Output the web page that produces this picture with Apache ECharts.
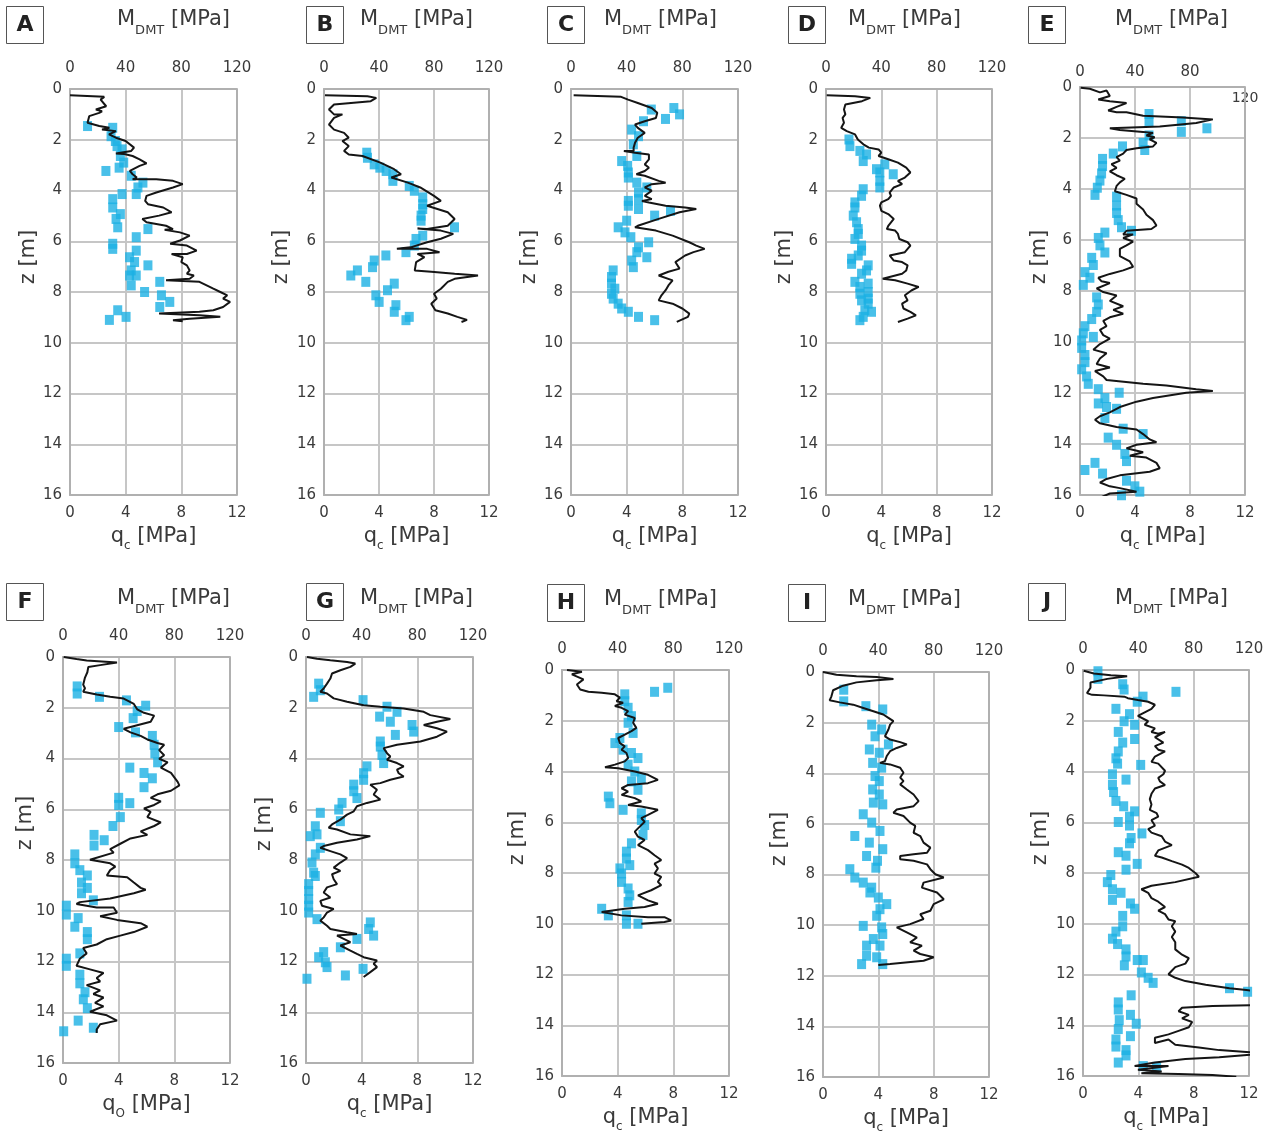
<!DOCTYPE html>
<html><head><meta charset="utf-8">
<script src="https://cdn.jsdelivr.net/npm/echarts@6/dist/echarts.min.js"></script>
<style>html,body{margin:0;padding:0;background:#fff}#c{width:1270px;height:1135px}</style>
</head><body><div id="c"></div><script>
// ---- DATA: qc profiles [qc MPa, z m] and M_DMT points [M MPa, z m] ----
const qcA=[[0,0.25],[2.46,0.31],[2.2,0.42],[2.6,0.68],[1.86,0.81],[2.3,0.88],[2.1,0.94],[1.38,1.07],[1.26,1.33],[2.1,1.46],[2.83,1.53],[2.3,1.6],[3.3,1.66],[2.8,1.79],[3.3,1.92],[4.0,2.05],[4.6,2.31],[4.4,2.44],[3.3,2.54],[3.9,2.56],[4.5,2.64],[5.0,2.77],[5.5,2.93],[5.0,3.03],[4.3,3.23],[4.5,3.36],[4.8,3.49],[4.5,3.56],[6.2,3.56],[7.4,3.62],[8.1,3.75],[7.4,3.88],[6.2,4.08],[5.5,4.21],[5.4,4.41],[5.6,4.54],[6.7,4.67],[7.3,4.86],[6.4,4.99],[5.2,5.12],[5.5,5.25],[6.9,5.39],[7.4,5.52],[6.8,5.55],[7.9,5.65],[8.6,5.78],[7.9,5.97],[7.2,6.1],[8.4,6.17],[9.1,6.37],[8.4,6.5],[7.3,6.5],[8.1,6.63],[8.0,6.82],[8.4,6.95],[8.6,7.15],[8.4,7.28],[8.9,7.35],[8.6,7.48],[6.9,7.54],[9.3,7.6],[10.3,7.87],[10.8,8.0],[11.3,8.13],[11.0,8.26],[11.5,8.39],[11.0,8.59],[10.3,8.72],[9.3,8.78],[6.4,8.85],[9.3,8.92],[10.8,8.98],[8.6,9.05],[7.4,9.11],[8.1,9.15]];
const mA=[[12.6,1.46],[30.7,1.53],[29.5,1.86],[32.6,2.05],[33.8,2.25],[37.4,2.38],[36.2,2.64],[38.6,2.9],[35.3,3.1],[25.8,3.23],[44,3.42],[52.4,3.69],[48.8,3.88],[47.6,4.14],[37.4,4.14],[30.7,4.34],[30.7,4.67],[36.2,4.93],[33.1,5.12],[34.3,5.45],[56,5.52],[47.6,5.84],[30.7,6.1],[30.7,6.3],[47.6,6.37],[42.8,6.63],[46.4,6.82],[56,6.95],[44,7.15],[42.8,7.35],[47.6,7.35],[44,7.74],[64.5,7.6],[53.6,8.0],[65.7,8.13],[71.7,8.39],[64.5,8.59],[34.3,8.72],[28.3,9.1],[40.3,8.98]];
const qcB=[[0.07,0.25],[3.16,0.29],[3.8,0.35],[3.4,0.48],[0.73,0.61],[0.36,0.81],[0.73,1.0],[1.34,1.0],[0.73,1.14],[0.36,1.4],[0.73,1.6],[1.46,1.73],[1.8,1.92],[1.34,2.05],[1.8,2.25],[1.46,2.44],[1.8,2.58],[2.8,2.64],[4.1,2.9],[5.1,3.16],[5.6,3.36],[4.9,3.49],[6.1,3.69],[7.0,3.88],[8.0,4.21],[8.5,4.41],[7.5,4.6],[9.0,4.86],[9.5,5.12],[9.0,5.39],[7.5,5.52],[6.8,5.5],[8.5,5.58],[9.4,5.71],[8.5,5.9],[7.5,6.04],[6.3,6.24],[5.3,6.3],[7.5,6.3],[8.4,6.43],[6.8,6.5],[7.3,6.63],[6.7,6.82],[6.6,7.15],[7.8,7.2],[9.5,7.28],[11.2,7.35],[9.5,7.48],[9.0,7.6],[8.5,7.87],[8.0,8.07],[8.2,8.26],[7.8,8.46],[8.1,8.72],[9.0,8.85],[9.7,8.98],[10.4,9.1],[10.0,9.18]];
const mB=[[31.1,2.51],[31.6,2.71],[36.5,2.97],[40.6,3.1],[45.2,3.23],[50.1,3.36],[50.1,3.62],[62,3.82],[65.7,4.01],[71.8,4.27],[71.8,4.54],[71.8,4.73],[70.6,4.99],[70.6,5.19],[94.9,5.45],[71.8,5.78],[66.9,5.91],[65.7,6.17],[59.6,6.43],[45,6.56],[36.5,6.76],[35.3,7.02],[24.3,7.15],[19.5,7.35],[30.4,7.6],[51.1,7.67],[46.2,7.93],[37.7,8.13],[40.1,8.39],[52.3,8.52],[51.1,8.78],[62,8.98],[59.6,9.11]];
const qcC=[[0.19,0.25],[3.6,0.31],[4.1,0.42],[4.8,0.55],[5.8,0.75],[6.2,0.94],[6.1,1.14],[5.3,1.27],[4.6,1.4],[4.8,1.53],[5.3,1.73],[4.8,1.92],[4.6,2.12],[4.5,2.31],[4.5,2.44],[3.8,2.44],[4.6,2.51],[5.6,2.58],[5.6,2.77],[5.3,2.97],[5.6,3.1],[5.3,3.23],[4.7,3.36],[5.3,3.42],[6.3,3.62],[6.8,3.69],[5.8,3.75],[5.3,3.88],[5.8,4.01],[5.3,4.21],[5.8,4.34],[5.1,4.41],[5.6,4.47],[6.8,4.6],[8.2,4.67],[9.0,4.73],[7.8,4.86],[6.3,5.12],[4.8,5.39],[4.6,5.45],[6.1,5.58],[7.3,5.78],[8.5,6.04],[9.0,6.17],[9.6,6.3],[8.8,6.43],[8.2,6.56],[7.5,6.82],[7.8,7.08],[7.0,7.2],[6.3,7.35],[7.3,7.54],[7.0,7.74],[6.8,7.93],[6.5,8.13],[6.3,8.33],[7.3,8.46],[8.0,8.65],[8.5,8.85],[8.4,8.98],[7.6,9.18]];
const mC=[[57.7,0.81],[73.9,0.75],[78,1.0],[67.9,1.18],[52.1,1.27],[43.6,1.6],[48.5,1.86],[44.8,2.18],[47.3,2.64],[36.4,2.84],[40.7,3.03],[41.2,3.29],[41.2,3.49],[47.3,3.69],[54.5,3.88],[48.5,4.08],[48.5,4.34],[41.2,4.41],[41.2,4.6],[48.5,4.73],[71.5,4.8],[60.1,4.99],[40,5.19],[33.9,5.45],[38.8,5.65],[43,5.84],[55.8,6.04],[48.5,6.24],[47.3,6.43],[54.5,6.63],[43.6,6.76],[44.8,7.02],[30.3,7.15],[29.1,7.41],[29.1,7.67],[31.5,7.87],[29.1,8.07],[30.3,8.26],[33.9,8.46],[36.4,8.65],[41.2,8.78],[48.5,8.98],[60.1,9.11]];
const qcD=[[0.05,0.25],[2.1,0.29],[3.2,0.35],[2.6,0.48],[1.4,0.61],[1.3,0.81],[1.4,1.0],[1.2,1.14],[1.3,1.33],[1.1,1.53],[1.5,1.66],[2.1,1.79],[2.3,1.99],[2.7,2.18],[3.1,2.31],[3.8,2.38],[4.0,2.51],[3.8,2.64],[4.5,2.77],[5.2,2.9],[5.8,3.1],[6.1,3.29],[5.7,3.49],[5.2,3.62],[5.5,3.75],[4.9,3.88],[4.6,4.08],[4.7,4.21],[4.5,4.34],[4.0,4.47],[3.9,4.6],[4.0,4.8],[4.5,4.93],[4.9,5.12],[4.5,5.39],[4.4,5.52],[5.0,5.58],[5.2,5.71],[5.3,5.91],[5.9,6.04],[6.1,6.17],[5.7,6.43],[4.6,6.56],[4.9,6.76],[5.5,6.82],[5.9,6.95],[5.8,7.15],[5.5,7.28],[4.1,7.48],[5.0,7.54],[5.9,7.67],[6.7,7.8],[6.2,7.93],[5.7,8.13],[5.9,8.33],[5.5,8.46],[5.6,8.65],[6.1,8.78],[6.5,8.92],[5.9,9.05],[5.2,9.18]];
const mD=[[16.6,1.99],[17.3,2.25],[24.5,2.44],[29.3,2.58],[26.9,2.84],[42.5,2.97],[36.5,3.16],[38.9,3.29],[48.6,3.36],[38.9,3.62],[38.9,3.88],[26.9,3.95],[25.7,4.21],[20.9,4.47],[20.9,4.67],[19.7,4.99],[22.1,5.25],[23.3,5.52],[23.3,5.71],[20.9,5.91],[25.7,6.17],[25.7,6.37],[23.3,6.56],[18.5,6.69],[18.5,6.89],[30.5,6.95],[29.3,7.15],[25.7,7.28],[20.9,7.6],[30.5,7.67],[24.5,7.8],[30.5,8.0],[24.5,8.07],[30.5,8.26],[25.7,8.33],[30.5,8.46],[28.1,8.72],[32.9,8.78],[26.9,8.98],[24.5,9.11]];
const qcE=[[0.05,0.03],[0.72,0.07],[1.45,0.21],[1.93,0.14],[2.17,0.35],[1.33,0.49],[2.17,0.56],[3.38,0.63],[2.66,0.78],[2.05,0.92],[2.66,0.99],[3.38,0.99],[4.59,1.13],[7.49,1.2],[9.66,1.27],[8.45,1.41],[5.8,1.55],[2.17,1.62],[2.9,1.69],[4.59,1.76],[5.31,1.8],[4.83,1.9],[5.43,1.97],[5.07,2.05],[5.56,2.19],[5.31,2.33],[4.11,2.4],[3.38,2.47],[3.14,2.61],[2.66,2.75],[2.9,2.89],[2.29,3.03],[2.66,3.17],[2.17,3.31],[2.66,3.46],[3.26,3.6],[2.9,3.74],[2.66,3.88],[2.54,4.09],[3.38,4.23],[4.11,4.37],[4.11,4.58],[4.59,4.8],[4.83,5.01],[5.31,5.22],[5.56,5.43],[5.19,5.57],[3.38,5.64],[3.14,5.78],[3.86,5.78],[3.14,5.92],[3.86,6.06],[3.38,6.21],[2.9,6.35],[2.9,6.63],[3.62,6.84],[3.86,7.05],[3.14,7.19],[2.17,7.33],[1.33,7.48],[1.57,7.62],[2.17,7.69],[1.21,7.9],[1.69,8.04],[2.66,8.18],[2.17,8.39],[3.14,8.6],[2.42,8.74],[3.14,8.89],[2.17,9.03],[1.69,9.17],[1.93,9.38],[1.45,9.52],[1.69,9.73],[2.17,9.87],[1.45,10.08],[0.97,10.3],[1.93,10.44],[1.45,10.65],[1.21,10.86],[2.17,11.0],[1.09,11.14],[1.69,11.35],[1.93,11.49],[4.59,11.64],[6.28,11.71],[8.45,11.85],[9.66,11.92],[7.73,11.99],[5.31,12.2],[4.11,12.34],[2.9,12.55],[2.17,12.76],[1.45,12.91],[1.09,13.05],[1.45,13.19],[2.66,13.33],[4.11,13.43],[4.59,13.61],[5.07,13.82],[5.56,13.93],[4.11,14.03],[3.38,14.17],[4.59,14.32],[3.62,14.46],[4.83,14.53],[5.56,14.74],[5.8,14.95],[5.07,15.09],[2.9,15.23],[1.93,15.37],[1.45,15.51],[2.17,15.66],[2.9,15.73],[4.11,15.87],[2.17,15.94],[1.57,16.08]];
const mE=[[50.2,1.06],[50.2,1.34],[73.7,1.34],[73.7,1.76],[92.3,1.62],[50.2,1.9],[45.9,2.19],[47.1,2.47],[30.9,2.33],[24.2,2.61],[16.4,2.82],[16.4,3.1],[15.7,3.39],[14.5,3.67],[12.6,3.95],[10.9,4.23],[26.6,4.3],[26.6,4.65],[26.6,4.94],[27.8,5.22],[37.4,5.64],[30.2,5.5],[18.1,5.71],[13.3,5.92],[14.5,6.21],[18.1,6.49],[8.5,6.7],[9.7,6.98],[3.6,7.26],[7.2,7.48],[2.4,7.76],[12.1,8.25],[13.3,8.53],[12.1,8.82],[8.5,9.1],[3.6,9.38],[2.4,9.66],[9.7,9.8],[1.2,9.94],[1.2,10.23],[3.6,10.51],[3.6,10.79],[1.2,11.07],[4.8,11.35],[6.0,11.64],[13.3,11.85],[28.5,11.99],[18.1,12.2],[13.3,12.41],[19.3,12.55],[26.6,12.62],[18.1,12.98],[31.4,13.4],[45.9,13.61],[20.5,13.75],[26.6,14.03],[32.6,14.39],[33.8,14.67],[10.9,14.74],[3.6,15.02],[16.4,15.16],[33.8,15.44],[39.9,15.66],[43.5,15.87],[30.2,16.01]];
const qcF=[[0.05,0],[0.97,0.08],[1.7,0.14],[3.88,0.22],[2.67,0.32],[1.82,0.39],[1.75,0.6],[1.58,0.81],[1.45,1.09],[1.58,1.23],[1.45,1.37],[2.42,1.48],[3.39,1.57],[4.36,1.64],[5.09,1.85],[5.33,2.06],[5.82,2.2],[6.55,2.31],[6.3,2.55],[5.33,2.69],[4.36,2.83],[4.85,2.97],[5.58,3.11],[6.06,3.25],[6.79,3.39],[7.27,3.46],[6.91,3.67],[7.27,3.87],[6.91,4.01],[7.52,4.15],[7.03,4.36],[7.76,4.57],[8.24,4.92],[8.36,5.06],[7.76,5.27],[6.79,5.41],[6.3,5.55],[7.03,5.69],[6.55,5.83],[5.82,5.97],[6.3,6.1],[6.06,6.31],[7.03,6.52],[6.55,6.66],[5.58,6.87],[6.06,7.01],[4.85,7.15],[4.12,7.36],[3.39,7.57],[3.64,7.71],[1.94,7.99],[3.39,8.13],[3.76,8.26],[3.39,8.4],[3.15,8.61],[4.61,8.68],[5.09,8.89],[5.58,9.1],[5.94,9.17],[5.09,9.31],[3.39,9.52],[1.21,9.66],[0.97,9.73],[2.42,9.87],[3.64,9.87],[3.88,10.08],[2.67,10.22],[3.88,10.36],[5.58,10.49],[6.06,10.63],[5.09,10.84],[4.12,10.98],[3.15,11.12],[2.42,11.33],[1.45,11.47],[1.7,11.68],[1.21,11.89],[0.97,12.17],[1.94,12.31],[2.91,12.45],[2.42,12.65],[2.67,12.79],[1.7,12.93],[2.67,13.14],[2.18,13.28],[2.91,13.42],[2.3,13.63],[2.91,13.77],[1.94,13.98],[3.15,14.12],[3.88,14.33],[2.67,14.47],[2.42,14.68],[2.42,14.82]];
const mF=[[10.2,1.16],[10.2,1.44],[26.2,1.57],[45.6,1.71],[59.4,1.92],[53.3,2.13],[50.4,2.41],[40,2.76],[52.1,2.97],[64.2,3.11],[65.5,3.46],[66,3.8],[68,4.15],[48,4.36],[58.2,4.57],[64.2,4.78],[58.2,5.13],[40,5.55],[40,5.83],[48,5.76],[41.2,6.31],[35.9,6.66],[22.3,7.01],[22.3,7.43],[29.6,7.22],[8.5,7.78],[8.5,8.13],[12.1,8.4],[17.5,8.61],[13.3,8.89],[17.5,9.1],[13.3,9.31],[21.8,9.59],[2.4,9.8],[2.4,10.15],[10.9,10.29],[8.5,10.63],[17.5,10.84],[17.5,11.12],[12.1,11.68],[2.4,11.89],[2.4,12.17],[12.1,12.52],[12.1,12.86],[15.8,13.21],[14.6,13.49],[17.5,13.84],[10.9,14.33],[21.8,14.61],[0.5,14.75]];
const qcG=[[0.07,0],[0.79,0.07],[1.75,0.13],[2.95,0.2],[3.54,0.26],[3.19,0.39],[2.47,0.52],[1.87,0.65],[1.75,0.85],[1.51,1.05],[1.27,1.24],[1.03,1.37],[1.51,1.44],[1.99,1.63],[2.95,1.76],[4.14,1.9],[5.34,1.96],[7.02,2.03],[8.46,2.16],[8.93,2.29],[10.37,2.44],[9.41,2.55],[8.46,2.68],[9.41,2.81],[10.13,2.94],[9.41,3.14],[8.22,3.33],[6.54,3.46],[5.58,3.59],[5.82,3.79],[6.06,3.92],[5.82,4.05],[6.54,4.18],[7.02,4.31],[6.54,4.44],[6.66,4.58],[7.02,4.71],[6.06,4.84],[5.34,4.97],[4.62,5.03],[5.1,5.23],[4.86,5.42],[5.34,5.62],[4.38,5.75],[3.66,5.88],[3.43,6.08],[2.95,6.21],[2.47,6.41],[1.87,6.6],[1.63,6.73],[2.23,6.8],[3.19,6.99],[4.62,7.06],[4.74,7.12],[3.66,7.19],[2.23,7.32],[1.27,7.45],[1.03,7.52],[1.75,7.65],[2.47,7.78],[2.95,7.93],[2.47,8.1],[1.99,8.3],[2.47,8.43],[1.87,8.56],[1.99,8.76],[2.23,8.95],[1.51,9.08],[1.27,9.28],[1.75,9.48],[1.03,9.61],[1.15,9.8],[1.99,9.93],[1.51,10.07],[1.27,10.26],[1.03,10.39],[1.51,10.59],[1.75,10.72],[2.95,10.85],[3.66,10.92],[2.23,10.98],[2.71,11.11],[3.19,11.24],[2.47,11.37],[3.19,11.57],[3.66,11.7],[4.14,11.83],[5.1,11.96],[4.86,12.09],[5.1,12.22],[4.62,12.42],[4.14,12.61]];
const mG=[[9.1,1.05],[10.3,1.31],[5.5,1.57],[41,1.7],[58.2,1.96],[65.4,2.16],[52.9,2.35],[60.6,2.55],[76.2,2.68],[77.4,2.94],[64.2,3.07],[53.4,3.33],[53.4,3.53],[54.6,3.86],[55.8,4.18],[43.8,4.31],[41.4,4.58],[41.4,4.84],[34.3,5.03],[34.3,5.29],[36.6,5.56],[25.9,5.75],[23.5,6.01],[10.3,6.14],[24.7,6.47],[6.7,6.67],[3.1,7.06],[7.9,6.99],[10.3,7.52],[6.7,7.78],[4.3,8.1],[5.5,8.5],[6.7,8.63],[1.9,8.95],[1.9,9.22],[1.9,9.54],[1.9,9.8],[1.9,10.07],[7.9,10.33],[46.2,10.46],[45,10.72],[48.6,10.98],[36.6,11.11],[24.7,11.44],[12.7,11.63],[9.1,11.83],[13.9,12.03],[15.1,12.22],[41,12.29],[28.3,12.55],[0.7,12.68]];
const qcH=[[0.36,0],[1.43,0.07],[0.71,0.17],[1.54,0.37],[1.07,0.57],[1.31,0.77],[1.9,0.86],[2.85,0.9],[3.8,0.96],[4.16,1.09],[3.92,1.23],[4.39,1.29],[3.8,1.42],[4.28,1.49],[4.75,1.62],[4.51,1.76],[5.23,1.89],[5.11,2.08],[5.34,2.28],[4.99,2.41],[4.51,2.55],[4.04,2.68],[4.16,2.88],[4.51,3.01],[4.28,3.14],[4.63,3.27],[4.75,3.47],[4.51,3.6],[3.8,3.73],[3.09,3.83],[4.04,3.87],[5.23,4.0],[6.18,4.13],[6.89,4.33],[6.18,4.46],[4.75,4.53],[4.28,4.66],[4.75,4.79],[4.28,4.92],[5.23,5.05],[5.7,5.18],[4.75,5.32],[5.7,5.38],[6.89,5.51],[6.18,5.71],[5.7,5.84],[5.94,5.98],[5.46,6.24],[5.23,6.37],[5.46,6.57],[5.94,6.7],[5.46,6.9],[6.18,7.1],[6.65,7.3],[7.13,7.49],[6.65,7.63],[6.89,7.82],[6.65,8.02],[7.13,8.15],[6.89,8.35],[7.13,8.48],[6.41,8.68],[5.46,8.88],[6.18,9.08],[6.89,9.21],[5.94,9.34],[4.51,9.41],[2.85,9.54],[4.28,9.67],[6.18,9.74],[7.36,9.74],[7.84,9.87],[7.36,9.93],[5.7,10.0]];
const mH=[[76,0.7],[66.5,0.86],[45.1,0.96],[45.1,1.23],[47.5,1.49],[49.9,1.82],[47.5,2.08],[51.1,2.48],[41.6,2.68],[38,2.88],[43.9,3.14],[49.9,3.27],[54.6,3.47],[47.5,3.73],[52.3,4.0],[57,4.26],[49.9,4.39],[54.6,4.72],[33.3,4.99],[34.4,5.25],[43.9,5.51],[57,5.65],[57,5.91],[59.4,6.11],[58.2,6.5],[49.9,6.83],[46.3,7.16],[46.3,7.43],[48.7,7.69],[41.6,7.82],[42.8,8.02],[42.8,8.35],[47.5,8.61],[48.7,8.88],[47.5,9.14],[28.5,9.41],[33.3,9.67],[46.3,9.67],[46.3,10.0],[54.6,10.0]];
const qcI=[[0,0],[0.97,0.11],[2.42,0.17],[3.88,0.2],[5.09,0.28],[3.88,0.33],[2.42,0.41],[1.45,0.54],[0.73,0.72],[0.61,0.96],[0.48,1.12],[1.21,1.2],[2.18,1.29],[2.91,1.42],[3.64,1.55],[4.36,1.68],[4.73,1.81],[5.09,1.94],[4.85,2.08],[4.73,2.27],[4.48,2.54],[4.85,2.67],[5.58,2.77],[6.06,2.86],[5.33,3.0],[4.85,3.13],[4.61,3.32],[4.48,3.52],[4.12,3.59],[4.85,3.65],[5.58,3.78],[5.82,3.98],[5.58,4.17],[5.82,4.31],[5.58,4.44],[6.06,4.64],[6.55,4.84],[6.91,5.1],[6.55,5.3],[5.33,5.43],[5.09,5.56],[5.82,5.69],[6.3,5.95],[6.67,6.08],[6.55,6.35],[7.03,6.48],[7.27,6.74],[7.76,6.94],[7.52,7.14],[6.55,7.2],[5.58,7.27],[5.58,7.4],[6.55,7.46],[7.52,7.6],[7.76,7.79],[8.12,7.99],[8.73,8.12],[7.27,8.32],[7.15,8.52],[8.24,8.71],[8.73,8.98],[8.0,9.17],[7.76,9.43],[7.03,9.57],[7.27,9.76],[6.3,9.96],[5.33,10.09],[6.06,10.29],[6.79,10.49],[6.3,10.68],[7.15,10.81],[6.55,11.01],[7.03,11.14],[8.0,11.27],[7.27,11.41],[4.85,11.54],[4.0,11.58]];
const mI=[[15,0.7],[15,1.16],[31,1.35],[43.2,1.48],[35.2,2.08],[42.4,2.27],[37.6,2.54],[47.3,2.86],[33.5,3.06],[40.7,3.19],[35.9,3.59],[42.4,3.78],[37.6,4.11],[40.7,4.31],[35.9,4.64],[40.7,4.84],[36.4,5.16],[43.2,5.23],[29.1,5.62],[35.2,5.95],[41.2,6.28],[23,6.48],[33.5,6.74],[43.2,7.0],[31.5,7.27],[39.4,7.46],[38.2,7.73],[19.4,7.79],[23,8.12],[29.1,8.32],[35.2,8.52],[33.9,8.71],[40,8.91],[46.1,9.17],[41.2,9.37],[38.8,9.63],[29.1,10.03],[42.4,10.09],[43.2,10.35],[36.4,10.55],[31.5,10.81],[41.2,10.81],[31.5,11.21],[38.8,11.27],[27.9,11.54],[43.2,11.54]];
const qcJ=[[0.05,0.03],[0.78,0.14],[2.01,0.21],[3.19,0.25],[1.76,0.35],[0.54,0.49],[0.54,0.7],[0.29,0.91],[0.66,0.98],[1.52,1.0],[2.99,1.05],[3.24,1.11],[3.97,1.18],[4.71,1.25],[5.2,1.37],[4.95,1.53],[4.46,1.67],[3.97,1.81],[4.71,2.02],[4.46,2.16],[5.2,2.3],[4.95,2.44],[5.44,2.51],[5.93,2.44],[5.2,2.65],[5.81,2.86],[5.2,3.0],[5.44,3.14],[5.93,3.21],[5.2,3.41],[4.95,3.62],[5.44,3.69],[5.93,3.97],[5.81,4.11],[5.44,4.25],[5.56,4.39],[5.93,4.53],[5.2,4.67],[4.95,4.88],[4.83,5.09],[4.95,5.3],[4.83,5.51],[5.32,5.64],[5.44,5.78],[4.95,5.92],[5.2,6.13],[4.71,6.27],[4.95,6.41],[5.69,6.55],[5.93,6.76],[6.42,6.9],[5.44,7.11],[5.2,7.32],[5.69,7.39],[6.42,7.53],[7.16,7.67],[7.65,7.8],[8.14,8.01],[8.38,8.15],[6.67,8.36],[4.95,8.5],[4.22,8.64],[4.71,8.78],[4.95,8.99],[5.44,9.13],[5.93,9.34],[5.44,9.48],[5.93,9.62],[6.18,9.83],[6.67,9.9],[6.42,10.1],[6.67,10.31],[6.42,10.52],[6.67,10.73],[6.67,11.01],[7.16,11.22],[7.65,11.36],[7.4,11.57],[6.67,11.71],[6.42,11.85],[6.18,11.99],[6.67,12.13],[7.4,12.26],[8.87,12.4],[10.59,12.54],[11.81,12.61],[14,12.8],[14,13.2],[9.36,13.24],[7.16,13.31],[6.91,13.45],[7.65,13.59],[7.16,13.73],[7.89,13.87],[7.65,14.08],[6.91,14.22],[6.18,14.36],[5.2,14.49],[5.2,14.7],[6.18,14.56],[6.67,14.77],[8.38,14.88],[9.85,14.98],[11.81,15.05],[13,15.12],[9.85,15.26],[7.4,15.33],[5.2,15.47],[3.73,15.61],[6.18,15.61],[3.97,15.75],[5.69,15.82],[4.22,15.89],[6.91,15.92],[9.36,15.96],[11.08,16.03]];
const mJ=[[10.8,0.05],[10.8,0.35],[28.7,0.56],[29.7,0.77],[67.2,0.86],[43.4,1.05],[39.2,1.25],[23.8,1.53],[33.6,1.74],[29.7,2.02],[37.3,2.16],[25.5,2.44],[37.3,2.72],[28.7,2.86],[25.5,3.21],[23.8,3.48],[25,3.69],[41.7,3.74],[21.3,4.11],[31.1,4.32],[21.3,4.53],[22.1,4.81],[23.8,5.16],[29.4,5.37],[37.3,5.57],[33.6,5.78],[25.5,5.99],[33.6,6.13],[42.6,6.44],[34.8,6.62],[33.6,6.83],[25.5,7.18],[31.1,7.32],[39.2,7.64],[31.1,7.87],[20.1,8.08],[17.6,8.36],[21.3,8.64],[27.5,8.78],[21.3,9.06],[34.3,9.2],[37.3,9.41],[28.7,9.69],[28.7,10.1],[23.8,10.31],[21.3,10.59],[25,10.8],[31.1,11.01],[31.1,11.29],[39.2,11.43],[43.6,11.43],[29.9,11.64],[42.2,11.92],[47.1,12.13],[50.7,12.33],[105.9,12.54],[119,12.68],[34.8,12.82],[25.5,13.1],[25.5,13.38],[34.3,13.59],[26.2,13.8],[38.5,13.94],[25.5,14.15],[34.3,14.43],[23.8,14.56],[23.8,14.84],[31.1,14.98],[31.1,15.19],[25.5,15.47],[43.6,15.61],[53.2,15.64]];

const panelIds=['A','B','C','D','E','F','G','H','I','J'];
const qcSets=[qcA,qcB,qcC,qcD,qcE,qcF,qcG,qcH,qcI,qcJ];
const mSets=[mA,mB,mC,mD,mE,mF,mG,mH,mI,mJ];
const qcSub=['c','c','c','c','c','O','c','c','c','c'];
const zTicks=[0,16,2], qcTicks=[0,12,4], mTicks=[0,120,40];

// ---- LAYOUT ----
const layout=[
 {left:70,top:89,w:167,h:406,box:[6,6],title:[117,3],zn:[29,257]},
 {left:324,top:89,w:165,h:406,box:[306,6],title:[360,3],zn:[282,257]},
 {left:571,top:89,w:167,h:406,box:[547,6],title:[604,3],zn:[530,257]},
 {left:826,top:89,w:166,h:406,box:[788,6],title:[848,3],zn:[785,257]},
 {left:1080,top:87,w:165,h:408,box:[1028,6],title:[1115,3],zn:[1040,257],tm:7},
 {left:63,top:657,w:167,h:406,box:[6,583],title:[117,582],zn:[26,823]},
 {left:306,top:657,w:167,h:406,box:[306,583],title:[360,582],zn:[265,824]},
 {left:562,top:670,w:167,h:406,box:[547,584],title:[604,583],zn:[518,838]},
 {left:823,top:672,w:166,h:405,box:[788,584],title:[848,583],zn:[780,839]},
 {left:1083,top:670,w:166,h:406,box:[1028,583],title:[1115,582],zn:[1041,838]}
];
const FONT='DejaVu Sans', TXT='#3a3a3a', GRIDC='#c6c6c6', AXC='#b0b0b0', BLUE='#1cb0e4';
const richMain={fontFamily:FONT,fontSize:21,fontWeight:'normal',color:TXT,lineHeight:30,verticalAlign:'middle'};
const richSub={fontFamily:FONT,fontSize:12,fontWeight:'normal',color:TXT,lineHeight:14,verticalAlign:'bottom'};
const titleMain={fontFamily:FONT,fontSize:21,fontWeight:'normal',color:TXT,lineHeight:34,verticalAlign:'middle'};
const titleSub={fontFamily:FONT,fontSize:13,fontWeight:'normal',color:TXT,lineHeight:15,verticalAlign:'bottom'};

const grid=[],xAxis=[],yAxis=[],series=[],title=[],graphic=[];
panelIds.forEach((id,i)=>{
  const L=layout[i];
  grid.push({left:L.left,top:L.top,width:L.w,height:L.h});
  xAxis.push({gridIndex:i,type:'value',position:'bottom',min:qcTicks[0],max:qcTicks[1],interval:qcTicks[2],
    axisLine:{show:true,onZero:false,lineStyle:{color:AXC,width:2}},axisTick:{show:false},
    splitLine:{show:true,lineStyle:{color:[AXC,GRIDC,GRIDC,AXC],width:2}},
    axisLabel:{color:TXT,fontFamily:FONT,fontSize:15,margin:11},
    name:'{a|q}{b|'+qcSub[i]+'}{a| [MPa]}',nameLocation:'middle',nameGap:27,
    nameTextStyle:{rich:{a:richMain,b:richSub}}});
  xAxis.push({gridIndex:i,type:'value',position:'top',min:mTicks[0],max:mTicks[1],interval:mTicks[2],
    axisLine:{show:true,onZero:false,lineStyle:{color:AXC,width:2}},axisTick:{show:false},
    splitLine:{show:false},
    axisLabel:{color:TXT,fontFamily:FONT,fontSize:15,margin:(L.tm||13),
      formatter:(v)=>(id==='E'&&v===120)?'':String(v)}});
  yAxis.push({gridIndex:i,type:'value',inverse:true,min:zTicks[0],max:zTicks[1],interval:zTicks[2],
    axisLine:{show:true,onZero:false,lineStyle:{color:AXC,width:2}},axisTick:{show:false},
    splitLine:{show:true,lineStyle:{color:GRIDC,width:2}},
    axisLabel:{color:TXT,fontFamily:FONT,fontSize:15,margin:8}});
  series.push({type:'scatter',xAxisIndex:2*i+1,yAxisIndex:i,data:mSets[i],symbol:'rect',symbolSize:[9,10],
    itemStyle:{color:BLUE},z:2,clip:false,silent:true});
  series.push({type:'line',xAxisIndex:2*i,yAxisIndex:i,data:qcSets[i],symbol:'none',showSymbol:false,
    lineStyle:{color:'#151515',width:2},z:3,clip:true,silent:true});
  title.push({text:'{a|M}{b|DMT}{a| [MPa]}',left:L.title[0],top:L.title[1],padding:0,
    textStyle:{fontWeight:'normal',rich:{a:titleMain,b:titleSub}}});
  graphic.push({type:'rect',shape:{x:L.box[0]+0.5,y:L.box[1]+0.5,width:37,height:37},
    style:{fill:'#fff',stroke:'#555',lineWidth:1}});
  graphic.push({type:'text',x:L.box[0]+19,y:L.box[1]+19,
    style:{text:id,font:'bold 22px "DejaVu Sans"',fill:'#222',align:'center',verticalAlign:'middle'}});
  graphic.push({type:'text',x:L.zn[0],y:L.zn[1],rotation:Math.PI/2,
    style:{text:'z [m]',font:'21px "DejaVu Sans"',fill:TXT,align:'center',verticalAlign:'middle'}});
});
graphic.push({type:'text',x:1245,y:98,style:{text:'120',font:'14px "DejaVu Sans"',fill:TXT,align:'center',verticalAlign:'middle'}});

const chart=echarts.init(document.getElementById('c'),null,{renderer:'canvas'});
chart.setOption({animation:false,backgroundColor:'#fff',title,grid,xAxis,yAxis,series,graphic});
</script></body></html>
